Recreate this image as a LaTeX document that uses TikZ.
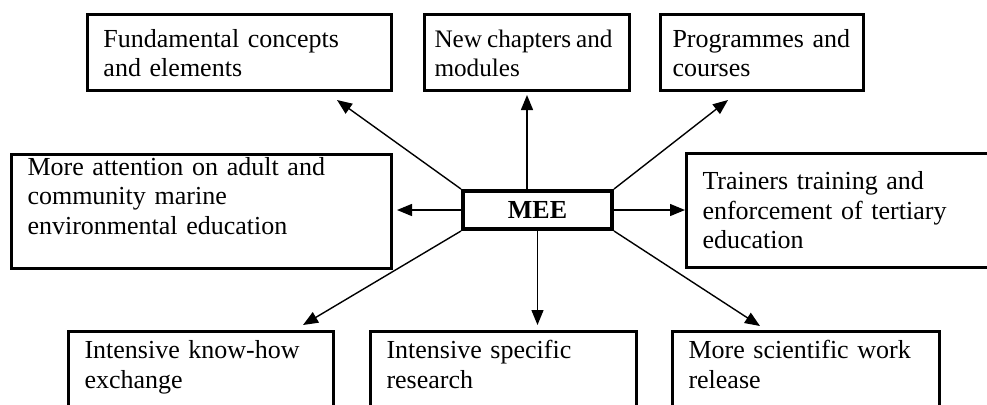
\documentclass[tikz,border=0pt]{standalone}
\usepackage{fontspec}
\setmainfont{Liberation Serif}
\usetikzlibrary{arrows.meta,calc,positioning}
\tikzset{
  idea/.style={
    draw, line width=1.5pt, anchor=north west, inner xsep=8pt, inner ysep=0pt,
    align=left, font=\fontsize{13}{14.75}\selectfont
  },
  core/.style={
    draw, line width=2pt, minimum width=74.5pt, minimum height=19pt,
    inner sep=0pt, font=\fontsize{13}{14.75}\selectfont\bfseries
  },
  flow/.style={-{Triangle[length=7.5pt,width=6pt]}, line width=0.7pt}
}

\begin{document}
\begin{tikzpicture}[x=0.5pt,y=-0.5pt]
    \clip (0,0) rectangle (987,404);
    \node[core] (mee) at (537.5,210) {MEE};
    \node[idea,text width=136pt,text height=16.3pt,text depth=21.7pt] (con) at (86,13) {Fundamental concepts\\and elements};
    \node[idea,inner xsep=5pt,text width=92.5pt,text height=16.3pt,text depth=21.7pt,font=\fontsize{12.6}{14.75}\selectfont] (chap) at (423,13) {\spaceskip=0.2em\relax New chapters and\\modules};
    \node[idea,inner xsep=6pt,text width=89.5pt,text height=16.3pt,text depth=21.7pt] (prog) at (659,13) {Programmes and\\courses};
    \node[idea,text width=174pt,text height=10.4pt,text depth=46.7pt] (adult) at (10,153) {More attention on adult and\\community marine\\environmental education};
    \node[idea,text width=150pt,text height=18pt,text depth=39pt] (train) at (685,152) {Trainers training and\\enforcement of tertiary\\education};
    \node[idea,text width=116.5pt,text height=13.5pt,text depth=45pt] (know) at (67,330) {Intensive know-how\\exchange};
    \node[idea,text width=117pt,text height=13.5pt,text depth=45pt] (res) at (369,330) {Intensive specific\\research};
    \node[idea,text width=117.5pt,text height=13.5pt,text depth=45pt] (sci) at (671,330) {More scientific work\\release};
    \coordinate (con-tip) at ([shift={(-56,8)}]con.south east);
    \coordinate (prog-tip) at ([shift={(69,8)}]prog.south west);
    \coordinate (know-tip) at ([shift={(-32,-5)}]know.north east);
    \coordinate (sci-tip) at ([shift={(89,-4)}]sci.north west);
    \draw[flow] (mee.north west) -- (con-tip);
    \draw[flow,shorten >=1.5pt] (chap.south |- mee.north) -- (chap.south);
    \draw[flow] (mee.north east) -- (prog-tip);
    \draw[flow,shorten >=2pt] (mee.west) -- (adult.east |- mee.west);
    \draw[flow] (mee.east) -- (mee.east -| train.west);
    \draw[flow] (mee.south west) -- (know-tip);
    \draw[flow,shorten >=2.5pt] (mee.south) -- (mee.south |- res.north);
    \draw[flow] (mee.south east) -- (sci-tip);
\end{tikzpicture}
\end{document}
